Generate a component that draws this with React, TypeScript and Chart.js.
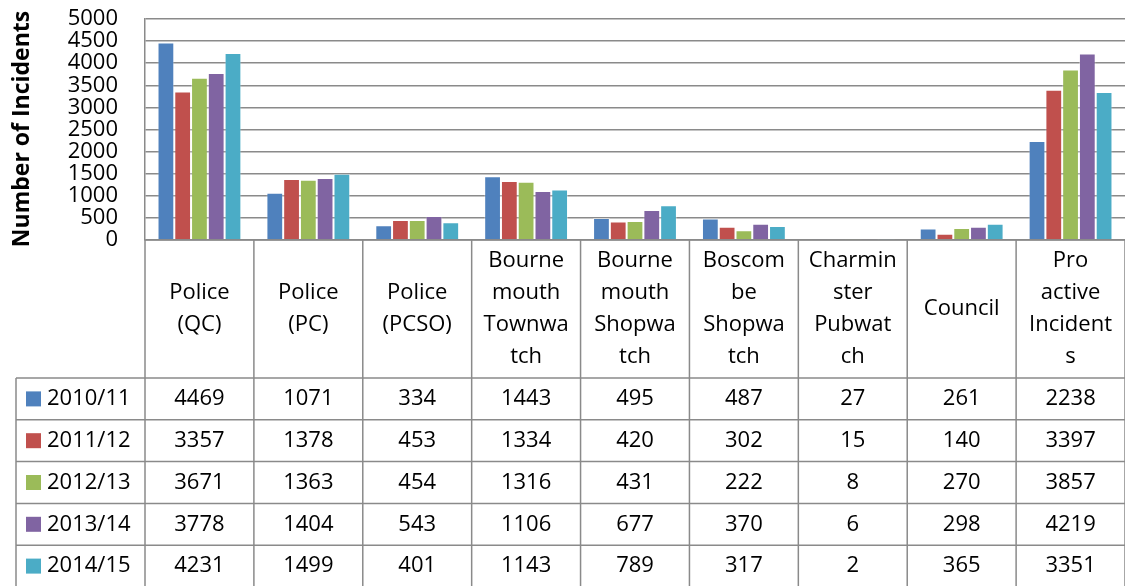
import React, { useEffect, useRef } from "react";
import { Chart, registerables } from "chart.js";

Chart.register(...registerables);

const categoryLines: string[][] = [
  ["Police", "(QC)"],
  ["Police", "(PC)"],
  ["Police", "(PCSO)"],
  ["Bourne", "mouth", "Townwa", "tch"],
  ["Bourne", "mouth", "Shopwa", "tch"],
  ["Boscom", "be", "Shopwa", "tch"],
  ["Charmin", "ster", "Pubwat", "ch"],
  ["Council"],
  ["Pro", "active", "Incident", "s"],
];
const categories = categoryLines.map((l) => l.join(""));

const seriesNames = ["2010/11", "2011/12", "2012/13", "2013/14", "2014/15"];
const s2010 = [4469, 1071, 334, 1443, 495, 487, 27, 261, 2238];
const s2011 = [3357, 1378, 453, 1334, 420, 302, 15, 140, 3397];
const s2012 = [3671, 1363, 454, 1316, 431, 222, 8, 270, 3857];
const s2013 = [3778, 1404, 543, 1106, 677, 370, 6, 298, 4219];
const s2014 = [4231, 1499, 401, 1143, 789, 317, 2, 365, 3351];
const seriesValues = [s2010, s2011, s2012, s2013, s2014];
const seriesColors = ["#4F81BD", "#C0504D", "#9BBB59", "#8064A2", "#4BACC6"];
const yTicks = [0, 500, 1000, 1500, 2000, 2500, 3000, 3500, 4000, 4500, 5000];

const FONT = "'Open Sans', sans-serif";
const GRID = "#8a8a8a";

const tablePlugin = {
  id: "dataTable",
  afterDraw(chart: any) {
    const ctx = chart.ctx as CanvasRenderingContext2D;
    const area = chart.chartArea;
    const left = area.left;
    const right = area.right;
    const cw = (right - left) / categories.length;
    const top = area.bottom;
    const headerBottom = 378;
    const rowH = 41.8;
    const legendLeft = 16;
    const H = chart.height;
    ctx.save();
    ctx.strokeStyle = GRID;
    ctx.lineWidth = 1.5;
    for (let i = 0; i <= categories.length; i++) {
      const x = left + i * cw;
      ctx.beginPath();
      ctx.moveTo(x, top);
      ctx.lineTo(x, H);
      ctx.stroke();
    }
    ctx.beginPath();
    ctx.moveTo(legendLeft, headerBottom);
    ctx.lineTo(legendLeft, H);
    ctx.stroke();
    ctx.beginPath();
    ctx.moveTo(left, top);
    ctx.lineTo(right, top);
    ctx.stroke();
    for (let r = 0; r <= seriesNames.length; r++) {
      const y = headerBottom + r * rowH;
      ctx.beginPath();
      ctx.moveTo(legendLeft, y);
      ctx.lineTo(right, y);
      ctx.stroke();
    }
    ctx.fillStyle = "#000";
    ctx.font = `22px ${FONT}`;
    ctx.textAlign = "center";
    ctx.textBaseline = "middle";
    const hc = (top + headerBottom) / 2;
    const lh = 32;
    categoryLines.forEach((lines, i) => {
      const cx = left + (i + 0.5) * cw;
      const y0 = hc - ((lines.length - 1) * lh) / 2;
      lines.forEach((t, k) => ctx.fillText(t, cx, y0 + k * lh));
    });
    seriesValues.forEach((vals, r) => {
      const cy = headerBottom + (r + 0.5) * rowH;
      vals.forEach((v, i) => {
        const cx = left + (i + 0.5) * cw;
        ctx.textAlign = "center";
        ctx.fillText(String(v), cx, cy);
      });
      ctx.fillStyle = seriesColors[r];
      ctx.fillRect(26, cy - 7.5, 15, 15);
      ctx.fillStyle = "#000";
      ctx.textAlign = "left";
      ctx.fillText(seriesNames[r], 47, cy);
    });
    ctx.save();
    ctx.translate(22, 129);
    ctx.rotate(-Math.PI / 2);
    ctx.font = `bold 23px ${FONT}`;
    ctx.textAlign = "center";
    ctx.textBaseline = "middle";
    ctx.fillText("Number of Incidents", 0, 0);
    ctx.restore();
    ctx.restore();
  },
};

export default function App() {
  const ref = useRef<HTMLCanvasElement | null>(null);
  useEffect(() => {
    document.body.style.margin = "0";
    const canvas = ref.current!;
    const chart = new Chart(canvas, {
      type: "bar",
      data: {
        labels: categories,
        datasets: seriesNames.map((name, i) => ({
          label: name,
          data: seriesValues[i],
          backgroundColor: seriesColors[i],
          borderColor: "rgba(255,255,255,0.35)",
          borderWidth: 1,
          categoryPercentage: 0.77,
          barPercentage: 1.0,
        })),
      },
      options: {
        responsive: false,
        animation: false,
        devicePixelRatio: 1,
        layout: { padding: { left: 0, right: 0, top: 19, bottom: 346 } },
        plugins: {
          legend: { display: false },
          tooltip: { enabled: false },
          title: { display: false },
        },
        scales: {
          x: { display: false },
          y: {
            min: 0,
            max: 5000,
            afterFit: (scale: any) => {
              scale.width = 145;
              scale.paddingTop = 0;
              scale.paddingBottom = 0;
            },
            afterBuildTicks: (scale: any) => {
              scale.ticks = yTicks.map((v) => ({ value: v }));
            },
            ticks: {
              color: "#000",
              font: { family: FONT, size: 22 },
              padding: 27,
              autoSkip: false,
              callback: (v: any) => String(v),
            },
            grid: {
              color: GRID,
              lineWidth: 1.5,
              drawTicks: false,
            },
            border: { display: true, color: GRID, width: 1.5 },
          },
        },
      },
      plugins: [tablePlugin],
    });
    return () => chart.destroy();
  }, []);
  return (
    <div style={{ position: "absolute", left: 0, top: 0 }}>
      <canvas ref={ref} width={1125} height={586} />
    </div>
  );
}
